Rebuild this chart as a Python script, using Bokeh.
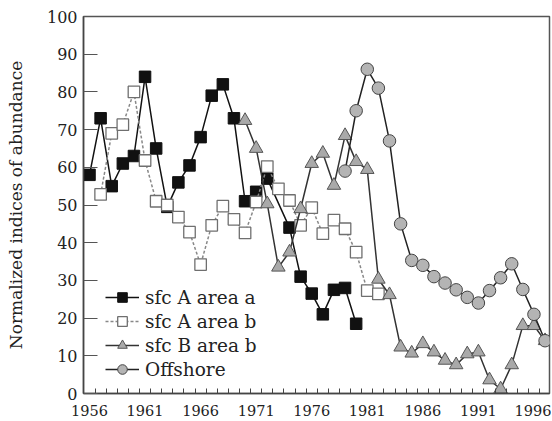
from bokeh.plotting import figure
from bokeh.models import Range1d, FixedTicker, Legend, LegendItem
from bokeh.embed import file_html
from bokeh.resources import INLINE

# ---- data ----
years_a = [1956, 1957, 1958, 1959, 1960, 1961, 1962, 1963, 1964, 1965, 1966, 1967,
           1968, 1969, 1970, 1971, 1972, 1974, 1975, 1976, 1977, 1978, 1979, 1980]
vals_a = [58, 73, 55, 61, 63, 84, 65, 49.5, 56, 60.5, 68, 79,
          82, 73, 51, 53.5, 57, 44, 31, 26.5, 21, 27.5, 28, 18.5]

years_b = list(range(1957, 1983))
vals_b = [52.8, 69, 71.3, 80, 61.8, 51, 50, 46.8, 42.8, 34.2, 44.6, 49.7, 46.2,
          42.6, 50.8, 60.2, 54.3, 51.2, 44.6, 49.3, 42.4, 46, 43.7, 37.5, 27.3, 26.4]

years_c = list(range(1970, 1998))
vals_c = [72.4, 65, 50.3, 33.5, 37.5, 49, 61, 63.7, 55.2, 68.4, 61.5, 59.4, 30.3, 26.2,
          12.3, 10.7, 13.2, 11, 8.8, 7.6, 10.5, 11, 3.6, 1.2, 7.6, 18, 18, 14]

years_d = list(range(1979, 1998))
vals_d = [59, 75, 86, 81, 67, 45, 35.3, 34, 31, 29.3, 27.5, 25.5, 24, 27.3,
          30.7, 34.4, 27.6, 21, 14]

labels = ["sfc A area a", "sfc A area b", "sfc B area b", "Offshore"]
x_tick_years = list(range(1956, 1997, 5))
x_minor = [y + 0.5 for y in range(1956, 1997)]
y_ticks = list(range(0, 101, 10))

FONT = "DejaVu Serif"

p = figure(width=551, height=420, output_backend="svg", toolbar_location=None,
           x_range=Range1d(1955.46, 1997.4), y_range=Range1d(0, 100),
           min_border_left=83, min_border_right=2, min_border_top=16, min_border_bottom=27)
p.xgrid.visible = False
p.ygrid.visible = False
p.outline_line_color = "#555555"
p.outline_line_width = 1.5
p.background_fill_color = "white"
p.border_fill_color = "white"

# series a
la = p.line(years_a, vals_a, line_color="#111111", line_width=1.5)
sa = p.scatter(years_a, vals_a, marker="square", size=11.5, fill_color="#111111",
               line_color="#111111")
# series b
lb = p.line(years_b, vals_b, line_color="#888888", line_width=1.5, line_dash="3 2")
sb = p.scatter(years_b, vals_b, marker="square", size=11.5, fill_color="white",
               line_color="#6f6f6f", line_width=1.3)
# series c
lc = p.line(years_c, vals_c, line_color="#333333", line_width=1.5)
sc = p.scatter(years_c, vals_c, marker="triangle", size=13.5, fill_color="#a9a9a9",
               line_color="#555555", line_width=1)
# offshore
ld = p.line(years_d, vals_d, line_color="#222222", line_width=1.5)
sd = p.scatter(years_d, vals_d, marker="circle", size=12.5, fill_color="#b4b4b4",
               line_color="#444444", line_width=1)

# axes
xa = p.xaxis[0]
xa.ticker = FixedTicker(ticks=x_tick_years, minor_ticks=x_minor)
xa.major_tick_in = 0
xa.major_tick_out = 0
xa.minor_tick_in = 5
xa.minor_tick_out = 0
xa.minor_tick_line_color = "#444444"
xa.axis_line_color = "#444444"
xa.axis_line_width = 1.5
xa.major_label_text_font = FONT
xa.major_label_text_font_size = "14.5px"
xa.major_label_text_color = "#222222"
xa.major_label_standoff = 11

ya = p.yaxis[0]
ya.ticker = FixedTicker(ticks=y_ticks, minor_ticks=[])
ya.major_tick_in = 14
ya.major_tick_out = 0
ya.major_tick_line_color = "#555555"
ya.major_tick_line_width = 1.2
ya.axis_line_color = "#444444"
ya.axis_line_width = 1.5
ya.major_label_text_font = FONT
ya.major_label_text_font_size = "16px"
ya.major_label_text_color = "#222222"
ya.major_label_standoff = 6
ya.axis_label = "Normalized indices of abundance"
ya.axis_label_text_font = FONT
ya.axis_label_text_font_size = "17px"
ya.axis_label_text_font_style = "normal"
ya.axis_label_text_color = "#222222"
ya.axis_label_standoff = 18

legend = Legend(items=[LegendItem(label=labels[0], renderers=[la, sa]),
                       LegendItem(label=labels[1], renderers=[lb, sb]),
                       LegendItem(label=labels[2], renderers=[lc, sc]),
                       LegendItem(label=labels[3], renderers=[ld, sd])],
                location=(22, 12), padding=0, margin=0, spacing=0,
                glyph_height=24, glyph_width=34, label_height=20, label_standoff=6,
                label_text_font=FONT, label_text_font_size="18.5px",
                label_text_color="#222222",
                border_line_color=None, background_fill_alpha=0)
p.add_layout(legend)

open("out.html", "w").write(file_html(p, INLINE))
